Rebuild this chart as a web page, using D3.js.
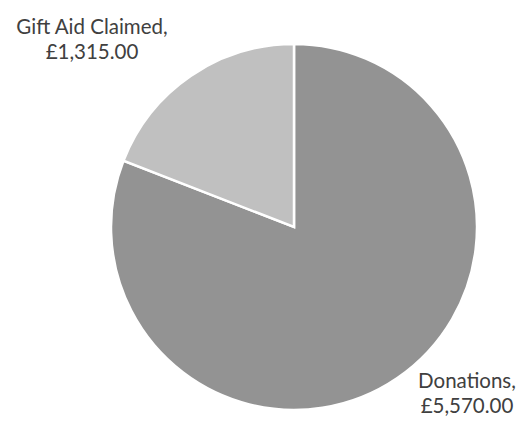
<!DOCTYPE html>
<html>
<head>
<meta charset="utf-8">
<script src="https://cdn.jsdelivr.net/npm/d3@7"></script>
<style>
  body { margin: 0; background: #fff; }
  svg { display: block; }
</style>
</head>
<body>
<svg id="chart" width="521" height="447"></svg>
<script>
const categories = ['Donations', 'Gift Aid Claimed'];
const values = [5570.00, 1315.00];
const colours = ['#939393', '#c0c0c0'];

const svg = d3.select('#chart');
const cx = 294, cy = 227, radius = 183;

const pie = d3.pie().sort(null).value((d) => d.value);
const arc = d3.arc().innerRadius(0).outerRadius(radius);

const data = categories.map((c, i) => ({ name: c, value: values[i], colour: colours[i] }));

const g = svg.append('g').attr('transform', 'translate(' + cx + ',' + cy + ')');

g.selectAll('path')
  .data(pie(data))
  .enter().append('path')
  .attr('d', arc)
  .attr('fill', (d) => d.data.colour)
  .attr('stroke', '#fff')
  .attr('stroke-width', 2.5)
  .attr('stroke-linejoin', 'miter');

// Labels
const fmt = (v) => '£' + d3.format(',.2f')(v);
const labelPos = [
  { x: 467, y: 388 },
  { x: 92, y: 34 }
];

data.forEach((d, i) => {
  const t = svg.append('text')
    .attr('text-anchor', 'middle')
    .attr('font-family', 'Lato, sans-serif')
    .attr('font-size', 20.5)
    .attr('fill', '#404040');
  t.append('tspan').attr('x', labelPos[i].x).attr('y', labelPos[i].y).text(d.name + ',');
  t.append('tspan').attr('x', labelPos[i].x).attr('y', labelPos[i].y + 25).text(fmt(d.value));
});
</script>
</body>
</html>
